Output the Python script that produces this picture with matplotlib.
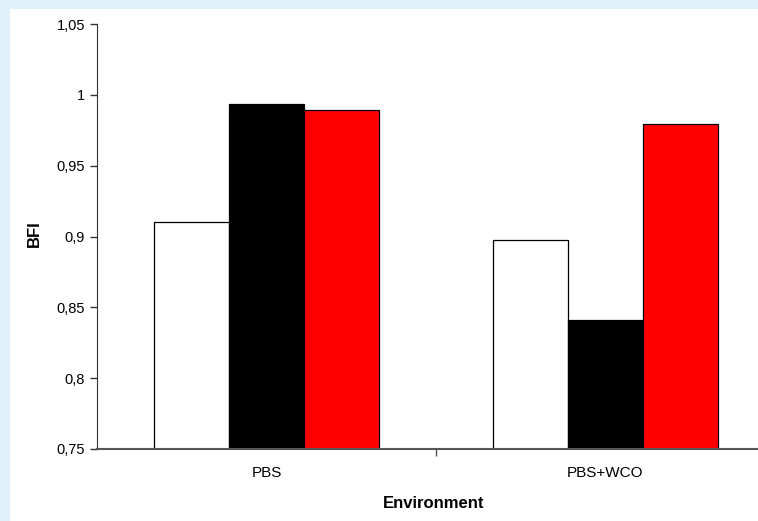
import numpy as np
import matplotlib.pyplot as plt
from matplotlib.patches import Rectangle

plt.rcParams['font.family'] = ['Liberation Sans', 'DejaVu Sans']

# Data
categories = ["PBS", "PBS+WCO"]
series_white = [0.9105, 0.8975]
series_black = [0.9933, 0.8410]
series_red = [0.9895, 0.9794]
series_colors = ["white", "black", "#FF0000"]
y_ticks = [0.75, 0.8, 0.85, 0.9, 0.95, 1.0, 1.05]
y_tick_labels = ["0,75", "0,8", "0,85", "0,9", "0,95", "1", "1,05"]

W, H = 758, 521
fig = plt.figure(figsize=(W / 100, H / 100), dpi=100)
fig.patch.set_facecolor("#E0F1FB")

# white panel behind the chart
fig.patches.append(Rectangle((10 / W, 0), 1, 1 - 9 / H, transform=fig.transFigure,
                             facecolor="white", edgecolor="none", zorder=-10))

left, right, top, bottom = 97, 775, 24, 449
ax = fig.add_axes([left / W, (H - bottom) / H, (right - left) / W, (bottom - top) / H])
ax.set_facecolor("none")
ax.set_zorder(5)

x = np.arange(len(categories))
width = 0.222
for i, (vals, col) in enumerate(zip([series_white, series_black, series_red], series_colors)):
    ax.bar(x + (i - 1) * width, vals, width, color=col, edgecolor="black", linewidth=0.9, zorder=2)

ax.set_xlim(-0.5, len(categories) - 0.5)
ax.set_ylim(0.75, 1.05)
ax.set_yticks(y_ticks)
ax.set_yticklabels(y_tick_labels, fontsize=10.5)

ax.set_xticks(x)
ax.set_xticklabels(categories, fontsize=11)
ax.tick_params(axis="x", which="major", length=0, pad=12)
ax.set_xticks(np.arange(0.5, len(categories) - 0.5), minor=True)
ax.tick_params(axis="x", which="minor", length=5, width=1, color="#555555")
ax.tick_params(axis="y", length=5, width=1, color="#333333")

ax.spines["top"].set_visible(False)
ax.spines["right"].set_visible(False)
ax.spines["left"].set_color("#333333")
ax.spines["bottom"].set_color("#555555")
ax.spines["bottom"].set_linewidth(1.5)

fig.text(34 / W, 1 - 234 / H, "BFI", fontsize=12, fontweight="bold",
         rotation=90, ha="center", va="center")
fig.text(434 / W, 1 - 503 / H, "Environment", fontsize=12, fontweight="bold",
         ha="center", va="center")

fig.savefig("out.png", dpi=100, facecolor=fig.get_facecolor())
